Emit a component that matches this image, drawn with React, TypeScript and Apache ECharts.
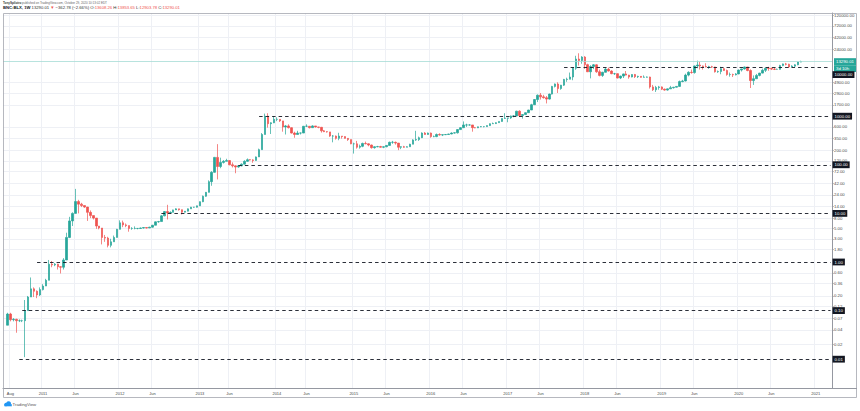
import { useEffect, useRef } from 'react';
import * as echarts from 'echarts';

const FONT = "'Liberation Sans', Arial, sans-serif";
const UP = '#26a69a';
const DOWN = '#ef5350';

// Two-week candles from 2010-07-18 to 2020-10-25 (open = previous close)
const FIRST_OPEN = 0.05;
const closes = [
  // 2010
  0.085, 0.065, 0.066, 0.062, 0.062, 0.062, 0.10, 0.19, 0.28, 0.25, 0.21, 0.27,
  // 2011
  0.32, 0.42, 0.90, 0.87, 0.90, 0.80, 0.78, 1.1, 3.2, 7.0, 10, 17.5, 15.5, 14.5, 13.5, 10.5, 9.0, 8.0, 5.5, 5.0, 3.2, 3.1, 2.2, 2.6, 3.2, 4.7,
  // 2012
  6.4, 5.8, 5.6, 4.9, 4.9, 4.9, 4.9, 5.0, 5.1, 5.0, 5.2, 5.7, 6.7, 6.8, 8.9, 10.9, 10.2, 10.5, 11.8, 12.4, 11.9, 10.6, 11.1, 12.4, 13.4, 13.4, 14.3,
  // 2013
  17.4, 22.5, 27.1, 45, 70, 142, 92, 112, 118, 122, 100, 95, 90, 95, 103, 118, 127, 126, 123, 145, 205, 420, 1000, 700, 730, 860,
  // 2014
  860, 800, 600, 630, 580, 450, 420, 450, 450, 620, 620, 580, 630, 600, 590, 500, 480, 475, 390, 390, 350, 390, 380, 350, 330, 270,
  // 2015
  270, 230, 240, 275, 270, 255, 225, 235, 237, 230, 235, 250, 290, 290, 280, 230, 235, 230, 235, 265, 325, 330, 360, 450, 420, 450,
  // 2016
  380, 380, 420, 410, 415, 420, 430, 450, 455, 530, 580, 660, 660, 660, 580, 575, 605, 610, 610, 640, 700, 705, 735, 780, 900, 910,
  // 2017
  920, 1010, 1010, 1270, 1030, 1080, 1180, 1340, 1720, 2200, 2700, 2500, 2400, 2250, 2850, 4100, 4600, 3700, 4350, 5700, 5750, 6400, 9700, 15000, 14000, 16500,
  // 2018
  11500, 8200, 10500, 11400, 8200, 6900, 8000, 9300, 8500, 7500, 7500, 6100, 6700, 7400, 7000, 6400, 7200, 6500, 6600, 6300, 6350, 6400, 4000, 3500, 3900, 4000,
  // 2019
  3600, 3450, 3650, 3850, 3950, 4100, 5150, 5300, 7000, 8000, 7900, 10800, 11300, 10800, 10500, 10300, 10400, 10300, 8200, 8300, 9500, 8700, 7200, 7200, 7100, 7400,
  // 2020
  8900, 9400, 10300, 8700, 5400, 5900, 6900, 7700, 8800, 9700, 9600, 9300, 9200, 9200, 11000, 11900, 11700, 10300, 10700, 11400, 13000, 13290.01,
];
const highs = [
  0.09, 0.09, 0.07, 0.068, 0.066, 0.065, 0.165, 0.20, 0.48, 0.30, 0.26, 0.30,
  0.35, 0.45, 1.1, 1.05, 0.95, 0.92, 0.82, 1.2, 4.0, 8.5, 10.5, 31.9, 19, 16.5, 14.5, 13.6, 11.5, 9.0, 8.0, 5.5, 5.0, 3.6, 3.3, 3.0, 3.5, 4.8,
  7.2, 7.1, 6.2, 5.6, 5.2, 5.4, 5.0, 5.1, 5.2, 5.1, 5.3, 5.8, 6.8, 7.0, 9.2, 11.2, 15.0, 11.0, 11.9, 12.7, 12.4, 12.0, 11.2, 12.6, 13.6, 13.6, 14.4,
  17.6, 23.3, 27.6, 47.9, 74, 145, 266, 140, 125, 133, 123, 112, 97, 99, 107, 124, 135, 130, 130, 148, 215, 450, 1130, 1150, 750, 1000,
  950, 860, 800, 660, 680, 590, 480, 500, 460, 630, 680, 620, 650, 630, 600, 600, 520, 490, 450, 410, 400, 455, 390, 385, 355, 330,
  285, 310, 260, 285, 300, 275, 260, 240, 245, 245, 240, 255, 300, 310, 300, 270, 240, 245, 240, 270, 335, 500, 380, 465, 470, 460,
  460, 400, 440, 445, 420, 425, 435, 465, 465, 540, 595, 780, 700, 680, 660, 600, 610, 625, 615, 645, 710, 740, 750, 780, 905, 1150,
  920, 1030, 1050, 1290, 1320, 1100, 1200, 1350, 1800, 2250, 2800, 3000, 2750, 2600, 2900, 4200, 4700, 4980, 4400, 5850, 6200, 7900, 9900, 17500, 19700, 17200,
  17200, 12000, 11200, 11800, 11700, 9100, 8200, 9800, 9990, 8800, 7800, 7600, 6800, 7500, 8500, 7100, 7300, 7400, 6800, 6700, 6900, 6550, 6500, 4400, 4200, 4200,
  4100, 3700, 3700, 4200, 4000, 4150, 5400, 5600, 7500, 8400, 9100, 11000, 13900, 13200, 11000, 12300, 10900, 10900, 10400, 8700, 10400, 9800, 9100, 7900, 7500, 7700,
  9100, 9500, 10500, 10300, 9200, 6900, 7400, 7800, 9500, 9900, 10400, 10000, 9800, 9500, 11400, 12100, 12500, 12000, 11200, 11700, 13300, 13853.65,
];
const lows = [
  0.05, 0.06, 0.06, 0.035, 0.058, 0.058, 0.011, 0.10, 0.19, 0.19, 0.18, 0.20,
  0.26, 0.32, 0.42, 0.78, 0.82, 0.70, 0.58, 0.70, 1.1, 3.1, 5.5, 10, 10, 13.5, 13, 7.0, 8.0, 7.5, 4.8, 4.7, 2.3, 2.6, 2.0, 2.0, 2.6, 3.2,
  4.7, 5.2, 5.2, 4.2, 4.6, 4.7, 4.7, 4.8, 4.9, 4.9, 5.0, 5.1, 5.7, 6.4, 6.8, 8.7, 7.5, 9.7, 10.5, 11.8, 11.4, 9.5, 10.5, 11.0, 12.4, 13.1, 13.2,
  14.2, 17.0, 22.0, 26.9, 37, 69, 50, 85, 106, 118, 98, 88, 67, 87, 93, 102, 115, 123, 110, 122, 145, 205, 420, 580, 430, 720,
  790, 760, 480, 420, 560, 440, 360, 420, 420, 450, 610, 560, 580, 585, 565, 460, 470, 460, 375, 290, 330, 320, 345, 345, 310, 265,
  170, 215, 215, 230, 265, 240, 215, 215, 230, 225, 220, 230, 250, 270, 260, 200, 210, 225, 230, 235, 265, 310, 310, 355, 415, 415,
  360, 370, 370, 400, 390, 410, 415, 425, 440, 440, 525, 570, 600, 640, 480, 565, 570, 595, 590, 605, 630, 690, 690, 730, 770, 880,
  750, 880, 950, 1000, 960, 890, 1060, 1170, 1340, 1700, 1950, 2200, 2300, 1830, 2200, 2800, 3900, 3000, 3500, 4200, 5100, 5900, 5500, 9000, 11000, 12000,
  9400, 8100, 6000, 9300, 7800, 6600, 6430, 7900, 8300, 7300, 7050, 6000, 5800, 6100, 6900, 5900, 6300, 6100, 6100, 6200, 6250, 6250, 3700, 3300, 3150, 3500,
  3450, 3350, 3350, 3650, 3700, 3900, 4050, 5000, 5200, 6600, 7500, 7500, 9700, 9100, 9100, 10100, 9400, 9800, 7900, 7800, 7300, 8600, 6800, 6500, 6400, 6900,
  7300, 8300, 9100, 8400, 3800, 4400, 5900, 6600, 7600, 8100, 8600, 8900, 8900, 9100, 9100, 10700, 11100, 9900, 10200, 10400, 11200, 12903.78,
];

// Horizontal support levels and the first period each dashed line starts at
const levels = [0.01, 0.1, 1, 10, 100, 1000, 10000];
const levelStarts = ['2010-09-12', '2010-09-26', '2010-12-05', '2012-07-15', '2013-07-14', '2013-10-20', '2017-10-01'];

// Price-scale tick labels
const yTicks = [0.02, 0.04, 0.07, 0.12, 0.2, 0.36, 0.6, 1.8, 3, 5, 8, 14, 24, 42, 72, 120, 200, 350, 600, 1700, 2900, 4900, 24000, 42000, 72000, 120000];

// Time-scale labels: [first date of the month, text]
const xLabels: [string, string][] = [
  ['2010-08-01', 'Aug'], ['2011-01-01', '2011'], ['2011-06-01', 'Jun'], ['2012-01-01', '2012'], ['2012-06-01', 'Jun'],
  ['2013-01-01', '2013'], ['2013-06-01', 'Jun'], ['2014-01-01', '2014'], ['2014-06-01', 'Jun'], ['2015-01-01', '2015'],
  ['2015-06-01', 'Jun'], ['2016-01-01', '2016'], ['2016-06-01', 'Jun'], ['2017-01-01', '2017'], ['2017-06-01', 'Jun'],
  ['2018-01-01', '2018'], ['2018-06-01', 'Jun'], ['2019-01-01', '2019'], ['2019-06-01', 'Jun'], ['2020-01-01', '2020'],
  ['2020-06-01', 'Jun'], ['2021-01-01', '2021'],
];

const lastPrice = 13290.01;
const countdown = '3d 10h';

function buildCategories(): string[] {
  const out: string[] = [];
  const start = Date.UTC(2010, 6, 4);
  for (let i = 0; i < 280; i++) {
    out.push(new Date(start + i * 14 * 86400000).toISOString().slice(0, 10));
  }
  return out;
}

function buildOption() {
  const categories = buildCategories();
  const labelMap = new Map<number, string>();
  xLabels.forEach(([d, t]) => {
    const idx = categories.findIndex((c) => c >= d);
    if (idx >= 0) labelMap.set(idx, t);
  });

  const candleData = closes.map((c, i) => {
    const o = i === 0 ? FIRST_OPEN : closes[i - 1];
    const h = Math.max(highs[i], o, c);
    const l = Math.min(lows[i], o, c);
    return [i + 1, o, c, l, h];
  });

  const lastCat = categories[categories.length - 1];
  const blk = {
    backgroundColor: '#131722', color: '#ffffff', fontSize: 4.3, fontFamily: FONT,
    padding: [1.6, 2, 1.2, 2], lineHeight: 7,
  };
  const levelLines = levels.map((v, k) => {
    const txt = v.toFixed(2);
    return [
      {
        coord: [levelStarts[k], v],
        lineStyle: { color: '#131722', width: 0.9, type: [3.5, 3] },
        label: {
          show: true, position: 'end', distance: 2,
          formatter: () => (v === 10000 ? `{gap|.}\n{blk|${txt}}` : `{blk|${txt}}`),
          rich: { blk, gap: { fontSize: 4.3, lineHeight: 14, color: 'rgba(0,0,0,0)' } },
        },
      },
      { coord: [lastCat, v] },
    ];
  });

  const teal = {
    backgroundColor: UP, color: '#ffffff', fontSize: 4.3, fontFamily: FONT,
    padding: [1.6, 2, 1.2, 2], lineHeight: 7, width: 18,
  };
  const priceLine = {
    yAxis: lastPrice,
    lineStyle: { color: '#a6dcd6', type: 'solid', width: 0.8, opacity: 1 },
    label: {
      show: true, position: 'end', distance: 2,
      formatter: () => `{gap|.}\n{tl|${lastPrice.toFixed(2)}}\n{tl|${countdown}}`,
      rich: { tl: teal, gap: { fontSize: 4.3, lineHeight: 7, color: 'rgba(0,0,0,0)' } },
    },
  };

  return {
    animation: false,
    backgroundColor: '#ffffff',
    textStyle: { fontFamily: FONT },
    grid: { left: 3, right: 28, top: 13, bottom: 23, outerBoundsMode: 'none', containLabel: false },
    xAxis: {
      type: 'category',
      data: categories,
      boundaryGap: true,
      axisLine: { show: true, lineStyle: { color: '#9598a1', width: 1 } },
      axisTick: { show: false },
      axisLabel: {
        interval: (i: number) => labelMap.has(i),
        formatter: (_v: string, i: number) => labelMap.get(i) ?? '',
        fontSize: 4,
        color: '#4a4a4a',
        margin: 3,
        fontFamily: FONT,
      },
      splitLine: {
        show: true,
        interval: (i: number) => labelMap.has(i),
        lineStyle: { color: '#eef0f5', width: 1 },
      },
    },
    yAxis: {
      type: 'log',
      logBase: 10,
      position: 'right',
      min: 0.002553,
      max: 132800,
      axisLine: { show: true, lineStyle: { color: '#9598a1', width: 1 } },
      axisTick: { show: true, length: 2, customValues: yTicks, lineStyle: { color: '#9598a1', width: 0.6 } },
      axisLabel: {
        customValues: yTicks,
        formatter: (v: number) => v.toFixed(2),
        fontSize: 4.3,
        color: '#4a4a4a',
        margin: 2,
        fontFamily: FONT,
      },
      splitLine: { show: true, lineStyle: { color: '#eef0f5', width: 1 } },
    },
    series: [
      {
        type: 'candlestick',
        data: candleData,
        encode: { x: 0, y: [1, 2, 3, 4] },
        barWidth: 2,
        clip: false,
        itemStyle: { color: UP, color0: DOWN, borderColor: UP, borderColor0: DOWN, borderWidth: 0.7 },
        markLine: {
          silent: true,
          symbol: ['none', 'none'],
          animation: false,
          data: [priceLine, ...levelLines],
        },
      },
    ],
    graphic: [
      {
        type: 'rect', silent: true, z: 100,
        shape: { x: 3.5, y: 13.5, width: 853, height: 384 },
        style: { fill: 'none', stroke: '#a3a6af', lineWidth: 0.8 },
      },
      {
        type: 'line', silent: true, z: 100,
        shape: { x1: 832, y1: 388.5, x2: 857, y2: 388.5 },
        style: { stroke: '#9598a1', lineWidth: 1 },
      },
      {
        type: 'text', x: 3, y: 2.8, silent: true,
        style: {
          text: '{nm|TonySpilotro} published on TradingView.com, October 29, 2020 10:13:02 EDT',
          fontSize: 3, fontFamily: FONT, fill: '#666666', verticalAlign: 'middle',
          rich: { nm: { fontSize: 3, fontWeight: 'bold', fill: '#333333', fontFamily: FONT } },
        },
      },
      {
        type: 'text', x: 3, y: 7.5, silent: true,
        style: {
          text: '{sym|BNC:BLX, 1W} 13290.01 {dn|▼} −362.78 (−2.66%) O:{rv|13608.26} H:{rv|13853.65} L:{rv|12903.78} C:{rv|13290.01}',
          fontSize: 4.2, fontFamily: FONT, fill: '#333333', verticalAlign: 'middle',
          rich: {
            sym: { fontSize: 4.2, fontWeight: 'bold', fill: '#131722', fontFamily: FONT },
            dn: { fontSize: 4.2, fill: DOWN, fontFamily: FONT },
            rv: { fontSize: 4.2, fill: DOWN, fontFamily: FONT },
          },
        },
      },
      { type: 'circle', silent: true, shape: { cx: 6, cy: 404.5, r: 1.8 }, style: { fill: '#2196f3' } },
      { type: 'circle', silent: true, shape: { cx: 8.6, cy: 403.6, r: 2.4 }, style: { fill: '#2196f3' } },
      { type: 'rect', silent: true, shape: { x: 4.4, y: 404.2, width: 7.4, height: 2.1 }, style: { fill: '#2196f3' } },
      {
        type: 'text', x: 12.5, y: 404.5, silent: true,
        style: { text: 'TradingView', fontSize: 4.3, fontFamily: FONT, fill: '#555555', verticalAlign: 'middle' },
      },
    ],
  };
}

export default function App() {
  const ref = useRef<HTMLDivElement>(null);
  useEffect(() => {
    document.body.style.margin = '0';
    const el = ref.current;
    if (!el) return;
    const chart = echarts.init(el, undefined, { renderer: 'svg' });
    chart.setOption(buildOption() as any);
    return () => chart.dispose();
  }, []);
  return <div ref={ref} style={{ width: 860, height: 411, background: '#ffffff' }} />;
}
